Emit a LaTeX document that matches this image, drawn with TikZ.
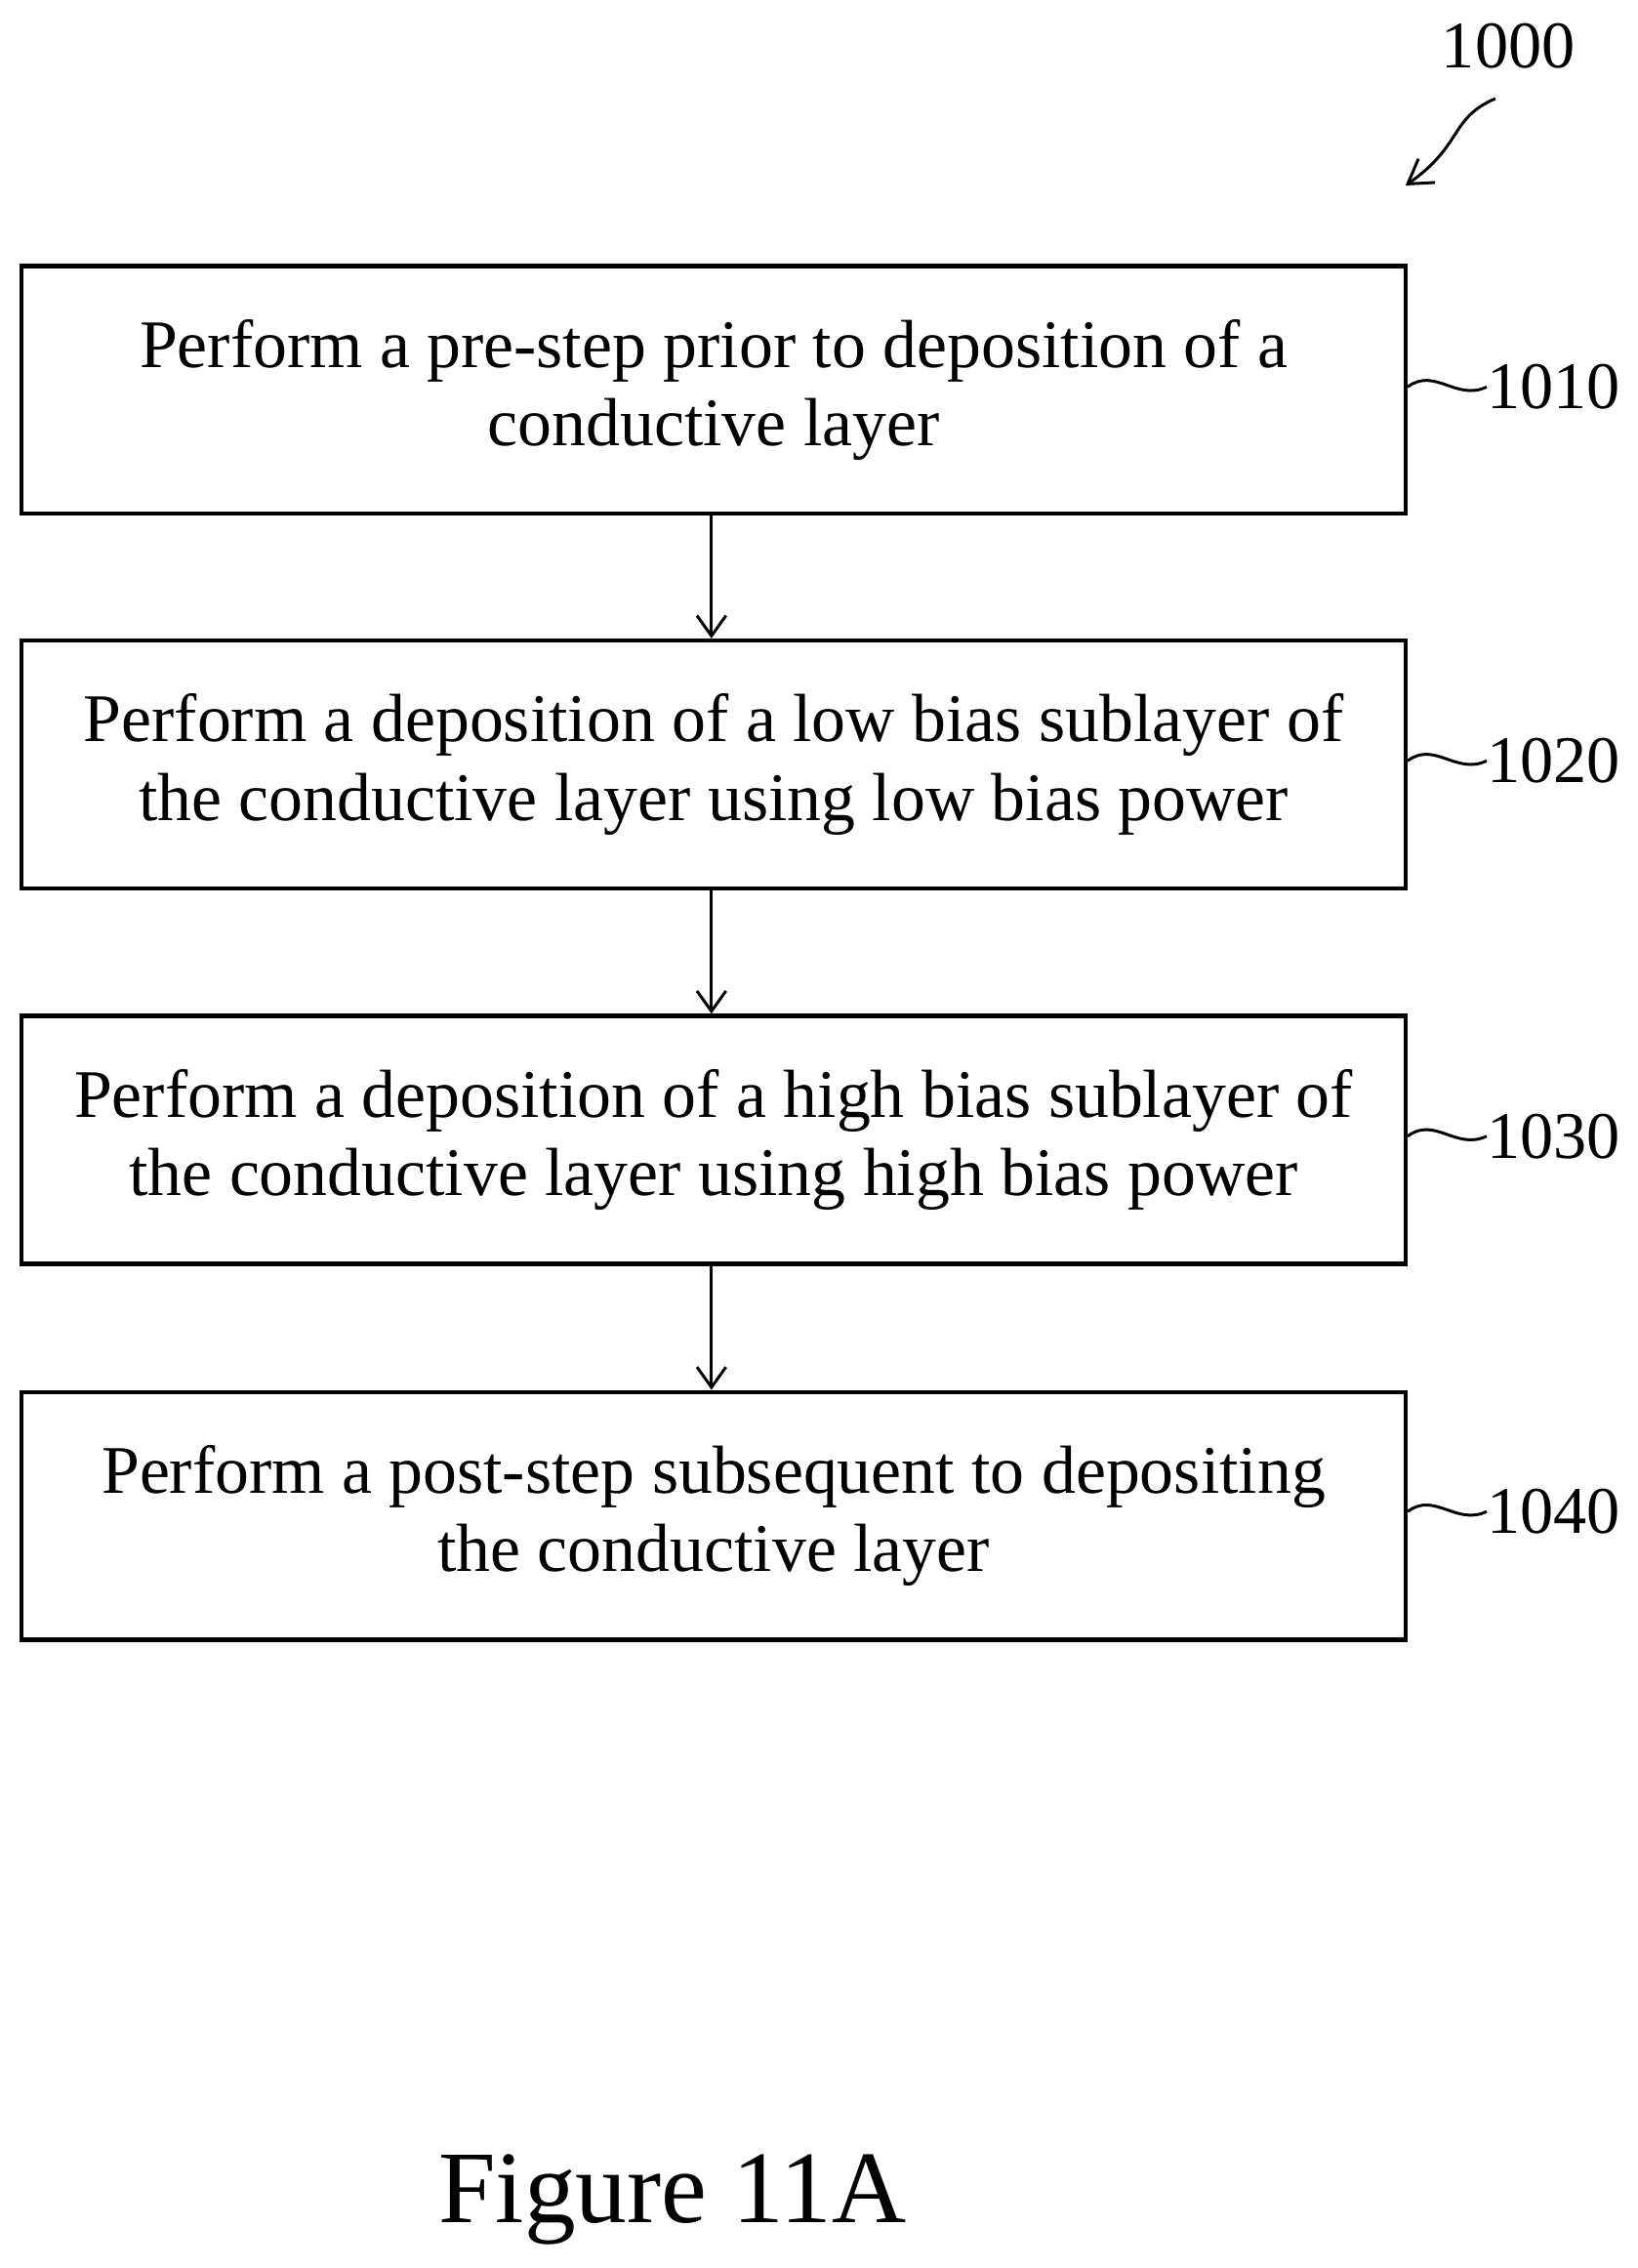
\documentclass[tikz,border=0pt]{standalone}
\usepackage{fontspec}
\setmainfont{Liberation Serif}
\usetikzlibrary{arrows.meta}
\begin{document}
\begin{tikzpicture}[x=1pt,y=-1pt,
 box/.style={draw,line width=3pt,minimum width=955pt,minimum height=171pt,align=center,font=\fontsize{47}{54}\selectfont,inner sep=0pt},
 lab/.style={font=\fontsize{46}{50}\selectfont,anchor=west,inner sep=0pt},
 arr/.style={line width=2pt,-{Straight Barb[length=14pt,width=20pt,line width=2pt]}},
 sq/.style={line width=2pt}]
\useasboundingbox (0,0) rectangle (1130,1565);
\node[box] (b1) at (492.5,269) {Perform a pre-step prior to deposition of a\\conductive layer};
\node[box] (b2) at (492.5,527.5) {Perform a deposition of a low bias sublayer of\\the conductive layer using low bias power};
\node[box] (b3) at (492.5,786.5) {Perform a deposition of a high bias sublayer of\\the conductive layer using high bias power};
\node[box] (b4) at (492.5,1046) {Perform a post-step subsequent to depositing\\the conductive layer};
\draw[arr] (b1.south -| 491,0) -- (b2.north -| 491,0);
\draw[arr] (b2.south -| 491,0) -- (b3.north -| 491,0);
\draw[arr] (b3.south -| 491,0) -- (b4.north -| 491,0);
\foreach \b/\t/\y in {b1/1010/267,b2/1020/525,b3/1030/784,b4/1040/1043}{
 \node[lab] (l\t) at (1026,\y) {\t};
 \draw[sq] (\b.east |- 0,\y) .. controls (990,\y-14) and (1005,\y+10) .. (l\t.west);
}
\node[font=\fontsize{46}{50}\selectfont] (n1000) at (1041,32) {1000};
\coordinate (a0) at (1032,68);
\coordinate (a1) at (970,128);
\draw[line width=2pt,-{Straight Barb[length=16pt,width=20pt,line width=2pt]}] (a0) .. controls (1000,82) and (1010,100) .. (a1);
\node[font=\fontsize{71}{76}\selectfont] (fig) at (464,1518) {Figure 11A};
\end{tikzpicture}
\end{document}
